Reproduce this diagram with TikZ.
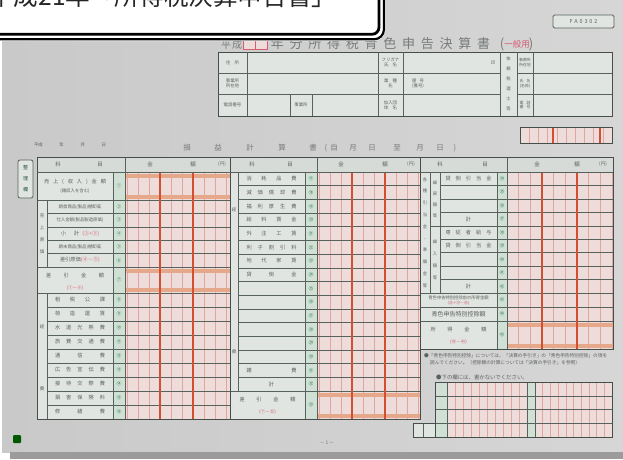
\documentclass[tikz,border=0pt]{standalone}
\usepackage{fontspec}
\setmainfont{Noto Sans CJK JP}
\definecolor{photoL}{RGB}{201,201,201}
\definecolor{photoR}{RGB}{214,214,214}
\definecolor{shadowc}{RGB}{155,155,155}
\definecolor{cellc}{RGB}{225,229,225}
\definecolor{headc}{RGB}{214,219,215}
\definecolor{linec}{RGB}{88,98,92}
\definecolor{pinkc}{RGB}{238,220,218}
\definecolor{pinkl}{RGB}{225,165,160}
\definecolor{redl}{RGB}{212,78,50}
\definecolor{bandc}{RGB}{230,168,138}
\definecolor{txtc}{RGB}{92,98,95}
\definecolor{ttlc}{RGB}{118,124,121}
\definecolor{numc}{RGB}{58,128,88}
\definecolor{numf}{RGB}{208,224,212}
\definecolor{redtxt}{RGB}{214,92,110}
\newcommand\lbx[2]{\makebox[#1pt]{#2}}
\begin{document}
\begin{tikzpicture}[x=1pt,y=-1pt,
  lab/.style={font=\fontsize{5.2}{5.6}\selectfont, text=txtc, inner sep=0pt},
  smlab/.style={font=\fontsize{4.4}{5}\selectfont, text=txtc, inner sep=0pt, align=center},
  vlab/.style={font=\fontsize{4.5}{12}\selectfont, text=txtc, inner sep=0pt, align=center},
  nm/.style={font=\fontsize{4.8}{5}\selectfont, text=numc, inner sep=0pt},
  rtx/.style={font=\fontsize{4.6}{5}\selectfont, text=redtxt, inner sep=0pt},
  ttl/.style={font=\fontsize{13}{13}\selectfont, text=ttlc, inner sep=0pt, anchor=base},
  gline/.style={draw=linec, line width=0.6},
  fline/.style={draw=linec!80!black, line width=1},
  digit/.style={draw=pinkl, line width=0.45},
  redbar/.style={draw=redl, line width=1.8},
  hdr/.style={font=\fontsize{5.5}{6}\selectfont, text=txtc, inner sep=0pt}
]
\useasboundingbox (0,0) rectangle (623,459);
% ---------- photo background ----------
\fill[white] (0,0) rectangle (623,459);
\shade[left color=photoL, right color=photoR] (2,0) rectangle (623,452);
\fill[shadowc] (10,452) rectangle (623,459);

% ---------- form title ----------
\node[ttl, font=\fontsize{10}{10}\selectfont] (tH) at (226,48) {平};
\node[ttl, font=\fontsize{10}{10}\selectfont] (tS) at (237,48) {成};
\draw[redtxt, line width=0.8, fill=pinkc] (243,37) rectangle (267,49);
\draw[redtxt, line width=0.6] (255,37) -- (255,49);
\foreach \c [count=\i from 0] in {年,分,所,得,税,青,色,申,告,決,算,書}
  \node[ttl] (t\i) at ({277.4+18.75*\i},48) {\c};
\node[ttl] (tpo) at (502,48) {(};
\node[ttl, font=\fontsize{8.5}{9}\selectfont, text=redtxt] (tip) at (517,47) {一般用};
\node[ttl] (tpc) at (531,48) {)};

% code box
\draw[linec, line width=0.8, fill=cellc, rounded corners=1.5] (553,15) rectangle (614,28);
\node[font=\fontsize{5.5}{6}\selectfont, text=txtc] (code) at (583.5,21.5) {F\,\,A\,\,0\,\,3\,\,0\,\,2};

% ---------- header info box ----------
\draw[fline, fill=cellc] (218,52) rectangle (612,116);
\foreach \x in {247,378,403,500,517,533} \draw[gline] (\x,52) -- (\x,116);
\foreach \y in {73,94} {\draw[gline] (218,\y) -- (500,\y); \draw[gline] (517,\y) -- (612,\y);}
\draw[gline] (290,94) -- (290,116);
\draw[gline] (312,94) -- (312,116);
\node[smlab] (hi1) at (232.5,62.5) {住\hspace{4pt}所};
\node[smlab] (hi2) at (232.5,83.5) {事業所\\所在地};
\node[smlab] (hi3) at (232.5,105) {電話番号};
\node[smlab] (hi4) at (301,105) {事業所};
\node[smlab] (hi5) at (390.5,62.5) {フリガナ\\氏\hspace{4pt}名};
\node[smlab] (hi6) at (390.5,83.5) {業\hspace{4pt}種\\名};
\node[smlab] (hi7) at (390.5,105) {加入団\\体\hspace{4pt}名};
\node[smlab] (hi8) at (418,83.5) {屋\hspace{3pt}号\\(雅号)};
\node[smlab] (hi9) at (493,62.5) {印};
\node[font=\fontsize{4.3}{10}\selectfont, text=txtc, inner sep=0pt, align=center] (hi10) at (508.5,84) {依\\頼\\税\\理\\士\\等};
\node[smlab, font=\fontsize{3.9}{4.6}\selectfont] (hi11) at (525,62.5) {事務所\\所在地};
\node[smlab, font=\fontsize{3.9}{4.6}\selectfont] (hi12) at (525,83.5) {氏\hspace{3pt}名\\(名称)};
\node[smlab, font=\fontsize{3.9}{4.6}\selectfont] (hi13) at (525,105) {電\hspace{3pt}話\\番\hspace{3pt}号};

% small numbered box at right
\fill[pinkc] (520,127) rectangle (612,143);
\foreach \k in {1,...,9} \draw[digit] ({520+9.2*\k},127) -- ({520+9.2*\k},143);
\draw[redbar, line width=1.4] (553,127) -- (553,143);
\draw[redbar, line width=1.4] (600,127) -- (600,143);
\draw[fline] (520,127) rectangle (612,143);

% ---------- sub title ----------
\foreach \c/\x [count=\i] in {損/187,益/218,計/250,算/282,書/313,{(}/326,自/334,月/353,日/372,至/397,月/420,日/440,{)}/455}
  \node[hdr, font=\fontsize{7.5}{8}\selectfont, text=ttlc] (st\i) at (\x,148) {\c};
\node[smlab] (date) at (70,145) {\lbx{72}{平成\hfill 年\hfill 月\hfill 日}};
\draw[linec, line width=0.8, fill=cellc, rounded corners=2] (18,160) rectangle (33,198);
\node[vlab, font=\fontsize{5}{11}\selectfont, text=numc!70!black] (side) at (25.5,179) {整\\理\\欄};

% ================= SECTION 1 =================
\fill[headc] (37,157) rectangle (420,172);
\fill[headc] (420,157) rectangle (613,172);
\fill[cellc] (37,172) rectangle (113,419);
\fill[numf] (113,172) rectangle (125,419);
\fill[pinkc] (125,172) rectangle (230,419);
\foreach \k in {0,...,9} \draw[digit] ({127+11*\k},172) -- ({127+11*\k},419);
\fill[bandc] (125,173.5) rectangle (230,177.5);
\fill[bandc] (125,194.5) rectangle (230,198.5);
\fill[bandc] (125,268.5) rectangle (230,272.5);
\fill[bandc] (125,288) rectangle (230,292);
\foreach \y in {213.4,226.8,240.2,253.6,307,321,335,349,363,377,391,405} \draw[gline] (47,\y) -- (230,\y);
\foreach \y in {172,200,267,293} \draw[gline] (37,\y) -- (230,\y);
\draw[gline] (47,200) -- (47,267);
\draw[gline] (47,293) -- (47,419);
\draw[gline] (113,172) -- (113,419);
\draw[gline] (125,157) -- (125,419);
\draw[redbar] (160,172) -- (160,419);
\draw[redbar] (193,172) -- (193,419);
% header texts
\node[hdr] (h1a) at (58,164.5) {科};
\node[hdr] (h1b) at (100,164.5) {目};
\node[hdr] (h1c) at (150,164.5) {金};
\node[hdr] (h1d) at (193,164.5) {額};
\node[hdr, font=\fontsize{4.5}{5}\selectfont] (h1e) at (222,164.5) {(円)};
% labels
\node[lab] (r1a) at (75,181.5) {\lbx{62}{売\hfill 上\hfill (\hfill 収\hfill 入\hfill )\hfill 金\hfill 額}};
\node[smlab] (r1b) at (75,191.5) {(雑収入を含む)};
\node[smlab] (r2) at (80,206.7) {期首商品(製品)棚卸高};
\node[smlab] (r3) at (80,220.1) {仕入金額(製品製造原価)};
\node[lab] (r4) at (80,233.5) {小\hspace{8pt}計\hspace{3pt}\textcolor{redtxt}{(②+③)}};
\node[smlab] (r5) at (80,246.9) {期末商品(製品)棚卸高};
\node[lab] (r6) at (80,260.3) {差引原価\textcolor{redtxt}{(④－⑤)}};
\node[lab] (r7a) at (75,276) {\lbx{58}{差\hfill 引\hfill 金\hfill 額}};
\node[rtx] (r7b) at (75,287.5) {(①－⑥)};
\node[vlab] (g1) at (42,233.5) {売\\上\\原\\価};
\node[vlab] (g2) at (42,327) {経};
\node[vlab] (g3) at (42,389) {費};
\foreach \t [count=\i from 0] in {{租\hfill 税\hfill 公\hfill 課},{荷\hfill 造\hfill 運\hfill 賃},{水\hfill 道\hfill 光\hfill 熱\hfill 費},{旅\hfill 費\hfill 交\hfill 通\hfill 費},{通\hfill 信\hfill 費},{広\hfill 告\hfill 宣\hfill 伝\hfill 費},{接\hfill 待\hfill 交\hfill 際\hfill 費},{損\hfill 害\hfill 保\hfill 険\hfill 料},{修\hfill 繕\hfill 費}}
  \node[lab] (sa\i) at (80,{300+14*\i}) {\lbx{50}{\t}};
\node[nm] (n1) at (119,186) {①};
\foreach \n [count=\i from 0] in {②,③,④,⑤,⑥}
  \node[nm] (nb\i) at (119,{206.7+13.4*\i}) {\n};
\node[nm] (n7) at (119,280) {⑦};
\foreach \n [count=\i from 0] in {⑧,⑨,⑩,⑪,⑫,⑬,⑭,⑮,⑯}
  \node[nm] (na\i) at (119,{300+14*\i}) {\n};

% ================= SECTION 2 =================
\fill[cellc] (230,172) rectangle (305,419);
\fill[numf] (305,172) rectangle (317,419);
\fill[pinkc] (317,172) rectangle (420,419);
\foreach \k in {0,...,9} \draw[digit] ({319+11*\k},172) -- ({319+11*\k},419);
\fill[bandc] (317,392.5) rectangle (420,396.5);
\fill[bandc] (317,413.5) rectangle (420,417.5);
\foreach \k in {1,...,15} \draw[gline] (238,{172+13.6875*\k}) -- (420,{172+13.6875*\k});
\draw[gline] (230,391) -- (420,391);
\draw[gline] (238,172) -- (238,391);
\draw[gline] (305,172) -- (305,419);
\draw[gline] (317,157) -- (317,419);
\draw[redbar] (352,172) -- (352,419);
\draw[redbar] (385,172) -- (385,419);
\node[hdr] (h2a) at (252,164.5) {科};
\node[hdr] (h2b) at (290,164.5) {目};
\node[hdr] (h2c) at (341,164.5) {金};
\node[hdr] (h2d) at (385,164.5) {額};
\node[hdr, font=\fontsize{4.5}{5}\selectfont] (h2e) at (411,164.5) {(円)};
\foreach \t [count=\i from 0] in {{消\hfill 耗\hfill 品\hfill 費},{減\hfill 価\hfill 償\hfill 却\hfill 費},{福\hfill 利\hfill 厚\hfill 生\hfill 費},{給\hfill 料\hfill 賃\hfill 金},{外\hfill 注\hfill 工\hfill 賃},{利\hfill 子\hfill 割\hfill 引\hfill 料},{地\hfill 代\hfill 家\hfill 賃},{貸\hfill 倒\hfill 金},{},{},{},{},{},{},{雑\hfill 費},{\hfill 計\hfill}}
  \node[lab] (sb\i) at (271.5,{178.84+13.6875*\i}) {\lbx{50}{\t}};
\foreach \n [count=\i from 0] in {⑰,⑱,⑲,⑳,㉑,㉒,㉓,㉔,㉕,㉖,㉗,㉘,㉙,㉚,㉛,㉜}
  \node[nm] (nc\i) at (311,{178.84+13.6875*\i}) {\n};
\node[lab] (s2a) at (267.5,399.5) {\lbx{56}{差\hfill 引\hfill 金\hfill 額}};
\node[rtx] (s2b) at (267.5,411.5) {(⑦－㉜)};
\node[nm] (n33) at (311,405) {㉝};
\node[vlab] (g4) at (234,210) {経};
\node[vlab] (g5) at (234,352) {費};

% ================= SECTION 3 =================
\fill[cellc] (420,172) rectangle (497,349);
\fill[numf] (497,172) rectangle (507,349);
\fill[pinkc] (507,172) rectangle (613,349);
\foreach \k in {0,...,9} \draw[digit] ({507+11.667*\k},172) -- ({507+11.667*\k},349);
\fill[bandc] (507,322.5) rectangle (613,326.5);
\fill[bandc] (507,344) rectangle (613,348);
\foreach \k in {1,2,3,5,6,7,8} \draw[gline] (440,{172+13.444*\k}) -- (613,{172+13.444*\k});
\draw[gline] (430,225.8) -- (613,225.8);
\foreach \y in {293,307,321} \draw[gline] (420,\y) -- (613,\y);
\draw[gline] (430,172) -- (430,293);
\draw[gline] (440,172) -- (440,293);
\draw[gline] (497,172) -- (497,349);
\draw[gline] (507,157) -- (507,349);
\draw[redbar] (542,172) -- (542,349);
\draw[redbar] (577,172) -- (577,349);
\node[hdr] (h3a) at (440,164.5) {科};
\node[hdr] (h3b) at (485,164.5) {目};
\node[hdr] (h3c) at (537,164.5) {金};
\node[hdr] (h3d) at (577,164.5) {額};
\node[hdr, font=\fontsize{4.5}{5}\selectfont] (h3e) at (603,164.5) {(円)};
\node[vlab, font=\fontsize{4.3}{11.8}\selectfont] (g6) at (425,232.5) {各\\種\\引\\当\\金\\・\\準\\備\\金\\等};
\node[vlab, font=\fontsize{4.3}{11}\selectfont] (g7) at (435,199) {繰\\戻\\額\\等};
\node[vlab, font=\fontsize{4.3}{12}\selectfont] (g8) at (435,259.4) {繰\\入\\額\\等};
\foreach \t [count=\i from 0] in {{貸\hfill 倒\hfill 引\hfill 当\hfill 金},{},{},{\hfill 計\hfill},{専\hfill 従\hfill 者\hfill 給\hfill 与},{貸\hfill 倒\hfill 引\hfill 当\hfill 金},{},{},{\hfill 計\hfill}}
  \node[lab] (sc\i) at (468.5,{178.72+13.444*\i}) {\lbx{46}{\t}};
\foreach \n [count=\i from 0] in {㉞,㉟,㊱,㊲,㊳,㊴,㊵,㊶,㊷}
  \node[nm] (nd\i) at (502,{178.72+13.444*\i}) {\n};
\node[smlab, font=\fontsize{4.3}{5}\selectfont] (s3a) at (458.5,297.5) {青色申告特別控除前の所得金額};
\node[rtx, font=\fontsize{3.8}{4}\selectfont] (s3b) at (458.5,303.3) {(㉝＋㊲－㊷)};
\node[lab, font=\fontsize{6}{6}\selectfont] (s3c) at (458.5,314) {青色申告特別控除額};
\node[lab] (s3d) at (458.5,330) {\lbx{56}{所\hfill 得\hfill 金\hfill 額}};
\node[rtx] (s3e) at (458.5,342) {(㊸－㊹)};
\node[nm] (n43) at (502,300) {㊸};
\node[nm] (n44) at (502,314) {㊹};
\node[nm] (n45) at (502,335) {㊺};

% outer frames
\draw[fline] (37,157) rectangle (420,419);
\draw[fline] (420,157) rectangle (613,349);
\draw[fline] (230,157) -- (230,419);
\draw[gline] (37,172) -- (613,172);

% ---------- notes & bottom table ----------
\node[anchor=west, font=\fontsize{4.7}{5}\selectfont, text=txtc, inner sep=0pt] (nt1) at (424,356) {●「青色申告特別控除」については、「決算の手引き」の「青色申告特別控除」の項を};
\node[anchor=west, font=\fontsize{4.7}{5}\selectfont, text=txtc, inner sep=0pt] (nt2) at (430,363) {読んでください。（控除額の計算については「決算の手引き」を参照）};
\node[anchor=west, font=\fontsize{5.4}{6}\selectfont, text=txtc, inner sep=0pt] (nt3) at (436,377) {●下の欄には、書かないでください。};
\fill[numf] (435,382) rectangle (612,437);
\fill[pinkc] (447,382) rectangle (527,437);
\fill[pinkc] (535,382) rectangle (612,437);
\foreach \k in {1,...,9} \draw[digit] ({447+8*\k},382) -- ({447+8*\k},437);
\foreach \k in {1,...,9} \draw[digit] ({535+7.7*\k},382) -- ({535+7.7*\k},437);
\foreach \y in {396,409.75,423.5} \draw[gline] (435,\y) -- (612,\y);
\foreach \x in {447,527,535} \draw[gline] (\x,382) -- (\x,437);
\draw[fline] (435,382) rectangle (612,437);
\draw[fline, fill=cellc] (413,423.5) rectangle (435,437);
\draw[gline] (423,423.5) -- (423,437);
\node[font=\fontsize{5}{5}\selectfont, text=ttlc] (pg) at (327,443) {－\,1\,－};
\fill[green!35!black, rounded corners=1] (13,435) rectangle (21,443);

% ---------- callout ----------
\fill[white, rounded corners=12] (-30,-30) rectangle (385.5,41);
\draw[black, line width=2.2, rounded corners=10] (-30,-30) rectangle (384,39.3);
\draw[black, line width=2.8, rounded corners=7] (-30,-30) rectangle (379,34.3);
\node[anchor=base west, font=\fontsize{24.6}{25}\selectfont, text=black!85, inner sep=0pt] (callout) at (-11,5) {平成21年「所得税決算申告書」};
\end{tikzpicture}
\end{document}
